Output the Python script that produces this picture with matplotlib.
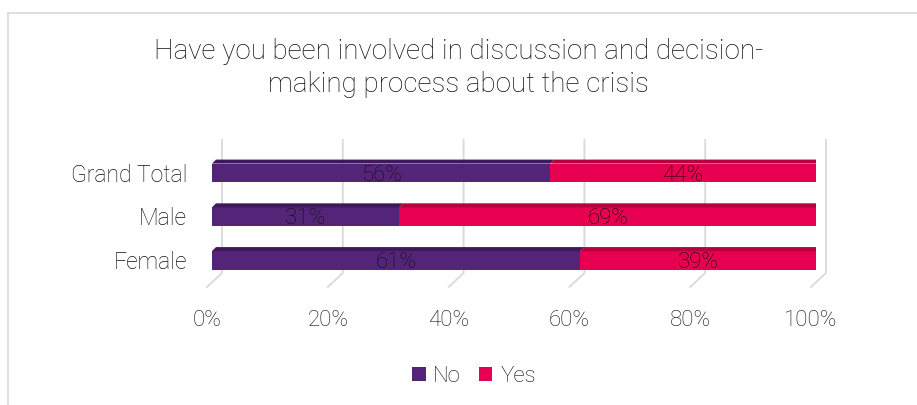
import matplotlib
matplotlib.use("Agg")
import matplotlib.pyplot as plt
from matplotlib.patches import Polygon
from matplotlib.lines import Line2D
from matplotlib import font_manager as fm

categories = ["Female", "Male", "Grand Total"]
no_vals = [0.61, 0.31, 0.56]
yes_vals = [0.39, 0.69, 0.44]
series_names = ["No", "Yes"]
xticks = [0, 0.2, 0.4, 0.6, 0.8, 1.0]
xtick_labels = ["0%", "20%", "40%", "60%", "80%", "100%"]
title = "Have you been involved in discussion and decision-\nmaking process about the crisis"

PURPLE = "#542478"
PURPLE_TOP = "#3E1A5A"
PURPLE_SIDE = "#36164F"
RED = "#E6004F"
RED_TOP = "#B5003E"
RED_SIDE = "#9E0036"
GRID = "#D9D9D9"
TEXT = "#111111"

names = {f.name for f in fm.fontManager.ttflist}
fam = "DejaVu Sans"
for cand in ["Roboto", "Lato", "Open Sans"]:
    if cand in names:
        fam = cand
        break
plt.rcParams["font.family"] = [fam, "DejaVu Sans"]
plt.rcParams["font.weight"] = "light"

W, H = 917, 405
fig = plt.figure(figsize=(W / 100, H / 100), dpi=100)
fig.patch.set_facecolor("white")

# outer border (top and left visible)
fig.add_artist(Line2D([8 / W, 1.0], [1 - 13 / H, 1 - 13 / H], transform=fig.transFigure, color=GRID, lw=1.2))
fig.add_artist(Line2D([8 / W, 8 / W], [0, 1 - 13 / H], transform=fig.transFigure, color=GRID, lw=1.2))

ax_l, ax_r, ax_t, ax_b = 212, 816, 140, 287
ax = fig.add_axes([ax_l / W, 1 - ax_b / H, (ax_r - ax_l) / W, (ax_b - ax_t) / H])
ax.set_xlim(0, 1)
ax.set_ylim(-0.606, 2.754)
ax.axis("off")

pxx = 1.0 / (ax_r - ax_l)          # data per pixel (x)
pxy = 3.36 / (ax_b - ax_t)         # data per pixel (y)

# gridlines with 3D perspective
for t in xticks:
    xs = [t + 10 * pxx, t + 10 * pxx, t - 5 * pxx]
    ys = [2.754, 2.754 - (273 - 140) * pxy, -0.606]
    ax.plot(xs, ys, color=GRID, lw=1.3, zorder=0, clip_on=False)

bh = 0.43
d = 4
y = list(range(len(categories)))
b1 = ax.barh(y, no_vals, height=bh, color=PURPLE, zorder=2)
b2 = ax.barh(y, yes_vals, left=no_vals, height=bh, color=RED, zorder=2)

for i in y:
    for left, w, top_c in [(0, no_vals[i], PURPLE_TOP), (no_vals[i], yes_vals[i], RED_TOP)]:
        yt = i + bh / 2
        ax.add_patch(Polygon([(left, yt), (left + w, yt), (left + w + d * pxx, yt + d * pxy),
                              (left + d * pxx, yt + d * pxy)], closed=True, color=top_c, lw=0, zorder=2))
    r = no_vals[i] + yes_vals[i]
    ax.add_patch(Polygon([(r, i + bh / 2), (r + d * pxx, i + bh / 2 + d * pxy),
                          (r + d * pxx, i - bh / 2 + d * pxy), (r, i - bh / 2)],
                         closed=True, color=RED_SIDE, lw=0, zorder=2))
    ax.text(no_vals[i] / 2, i - 0.05, f"{round(no_vals[i]*100)}%", ha="center", va="center",
            fontsize=16, color=TEXT, zorder=3)
    ax.text(no_vals[i] + yes_vals[i] / 2, i - 0.05, f"{round(yes_vals[i]*100)}%", ha="center", va="center",
            fontsize=16, color=TEXT, zorder=3)

for i, c in enumerate(categories):
    ax.text(-25 * pxx, i - 0.05, c, ha="right", va="center", fontsize=16.5, color=TEXT)

for t, lab in zip(xticks, xtick_labels):
    ax.text(t - 5 * pxx, -0.606 - (320 - 287) * pxy, lab, ha="center", va="center", fontsize=16, color=TEXT)

fig.text(0.5, 1 - 68 / H, title, ha="center", va="center", fontsize=20, color=TEXT, linespacing=1.3)

# legend
leg = fig.legend([b1, b2], series_names, loc="center", bbox_to_anchor=(474 / W, 1 - 376 / H),
                 ncol=2, frameon=False, prop={"size": 16, "weight": "light"}, handlelength=0.6,
                 handleheight=0.6, handletextpad=0.35, columnspacing=0.8)
for t in leg.get_texts():
    t.set_color(TEXT)

fig.savefig("out.png", dpi=100, facecolor="white")
